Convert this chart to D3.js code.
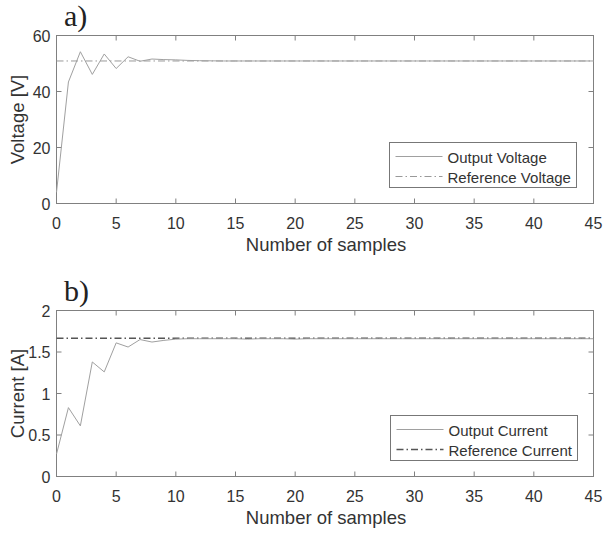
<!DOCTYPE html>
<html>
<head>
<meta charset="utf-8">
<script src="https://cdn.jsdelivr.net/npm/d3@7"></script>
<style>
  body { margin: 0; background: #fff; }
  text { font-family: "Liberation Sans", Arial, sans-serif; }
  text.tag { font-family: "Liberation Serif", "DejaVu Serif", "Times New Roman", serif; }
</style>
</head>
<body>
<div id="chart"></div>
<script>
// samples 0..45
var samples = d3.range(0, 46);
var outputVoltage = [4.0, 43.4, 54.2, 46.1, 53.4, 48.2, 52.4, 50.8, 51.6, 51.4,
  51.3, 51.1, 51.0, 50.95, 50.9, 50.9, 50.9, 50.9, 50.9, 50.9,
  50.9, 50.9, 50.9, 50.9, 50.9, 50.9, 50.9, 50.9, 50.9, 50.9,
  50.9, 50.9, 50.9, 50.9, 50.9, 50.9, 50.9, 50.9, 50.9, 50.9,
  50.9, 50.9, 50.9, 50.9, 50.9, 50.9];
var refVoltage = 50.9;
var outputCurrent = [0.27, 0.83, 0.61, 1.38, 1.26, 1.61, 1.56, 1.65, 1.62, 1.64,
  1.655, 1.66, 1.66, 1.66, 1.66, 1.66, 1.655, 1.66, 1.66, 1.66,
  1.655, 1.66, 1.66, 1.66, 1.66, 1.66, 1.66, 1.66, 1.66, 1.66,
  1.66, 1.66, 1.66, 1.66, 1.66, 1.66, 1.66, 1.66, 1.66, 1.66,
  1.66, 1.66, 1.66, 1.66, 1.66, 1.66];
var refCurrent = 1.667;
var xTicks = [0, 5, 10, 15, 20, 25, 30, 35, 40, 45];
var voltTicks = [0, 20, 40, 60];
var currTicks = [0, 0.5, 1, 1.5, 2];

var svg = d3.select("#chart").append("svg")
  .attr("width", 603).attr("height", 533);

function BuildPanel(opts) {
  var left = 56.5, right = 593.5;
  var top = opts.top, bottom = opts.bottom;
  var axisColor = "#808080", textColor = "#333";
  var x = d3.scaleLinear().domain([0, 45]).range([left, right]);
  var y = d3.scaleLinear().domain(opts.ydomain).range([bottom, top]);
  var g = svg.append("g");

  // box with inner ticks on all sides
  g.append("rect").attr("x", left).attr("y", top)
    .attr("width", right - left).attr("height", bottom - top)
    .attr("fill", "none").attr("stroke", axisColor).attr("stroke-width", 1);

  var tl = 5;
  xTicks.forEach(function (t) {
    g.append("line").attr("x1", x(t)).attr("x2", x(t)).attr("y1", bottom).attr("y2", bottom - tl)
      .attr("stroke", axisColor);
    g.append("line").attr("x1", x(t)).attr("x2", x(t)).attr("y1", top).attr("y2", top + tl)
      .attr("stroke", axisColor);
    g.append("text").attr("x", x(t)).attr("y", bottom + 25)
      .attr("text-anchor", "middle").attr("font-size", 16).attr("fill", textColor).text(t);
  });
  opts.yticks.forEach(function (t) {
    g.append("line").attr("x1", left).attr("x2", left + tl).attr("y1", y(t)).attr("y2", y(t))
      .attr("stroke", axisColor);
    g.append("line").attr("x1", right).attr("x2", right - tl).attr("y1", y(t)).attr("y2", y(t))
      .attr("stroke", axisColor);
    g.append("text").attr("x", left - 6).attr("y", y(t) + 6)
      .attr("text-anchor", "end").attr("font-size", 16).attr("fill", textColor).text(t);
  });

  // reference line
  g.append("line").attr("x1", x(0)).attr("x2", x(45))
    .attr("y1", y(opts.ref)).attr("y2", y(opts.ref))
    .attr("stroke", opts.refColor).attr("stroke-width", opts.refWidth)
    .attr("stroke-dasharray", "7,3,1.5,3");

  // output line
  var line = d3.line().x(function (d, i) { return x(samples[i]); }).y(function (d) { return y(d); });
  g.append("path").datum(opts.output).attr("d", line)
    .attr("fill", "none").attr("stroke", "#a0a0a0").attr("stroke-width", 1);

  // labels
  g.append("text").attr("x", (left + right) / 2 + 1).attr("y", bottom + 47)
    .attr("text-anchor", "middle").attr("font-size", 18.5).attr("fill", textColor)
    .text("Number of samples");
  g.append("text").attr("transform", "translate(24," + (top + bottom) / 2 + ") rotate(-90)")
    .attr("text-anchor", "middle").attr("font-size", 18.5).attr("fill", textColor)
    .text(opts.ylabel);
  g.append("text").attr("class", "tag").attr("x", 64).attr("y", top - 10)
    .attr("font-size", 30).attr("fill", "#222").text(opts.tag);

  // legend
  var lx = opts.legend[0], ly = opts.legend[1], lw = 187, lh = 45;
  g.append("rect").attr("x", lx).attr("y", ly).attr("width", lw).attr("height", lh)
    .attr("fill", "#fff").attr("stroke", "#777");
  g.append("line").attr("x1", lx + 6).attr("x2", lx + 53).attr("y1", ly + 14).attr("y2", ly + 14)
    .attr("stroke", "#a0a0a0");
  g.append("line").attr("x1", lx + 6).attr("x2", lx + 53).attr("y1", ly + 34).attr("y2", ly + 34)
    .attr("stroke", opts.refColor).attr("stroke-width", opts.refWidth)
    .attr("stroke-dasharray", "7,3,1.5,3");
  g.append("text").attr("x", lx + 58).attr("y", ly + 20).attr("font-size", 15)
    .attr("fill", textColor).text(opts.names[0]);
  g.append("text").attr("x", lx + 58).attr("y", ly + 40).attr("font-size", 15)
    .attr("fill", textColor).text(opts.names[1]);
}

BuildPanel({
  top: 35.5, bottom: 203.5, ydomain: [0, 60], yticks: voltTicks,
  output: outputVoltage, ref: refVoltage, refColor: "#999", refWidth: 1,
  ylabel: "Voltage [V]", tag: "a)", legend: [389.5, 142.5],
  names: ["Output Voltage", "Reference Voltage"]
});
BuildPanel({
  top: 310.5, bottom: 476.5, ydomain: [0, 2], yticks: currTicks,
  output: outputCurrent, ref: refCurrent, refColor: "#555", refWidth: 1.5,
  ylabel: "Current [A]", tag: "b)", legend: [390.5, 415.5],
  names: ["Output Current", "Reference Current"]
});
</script>
</body>
</html>
